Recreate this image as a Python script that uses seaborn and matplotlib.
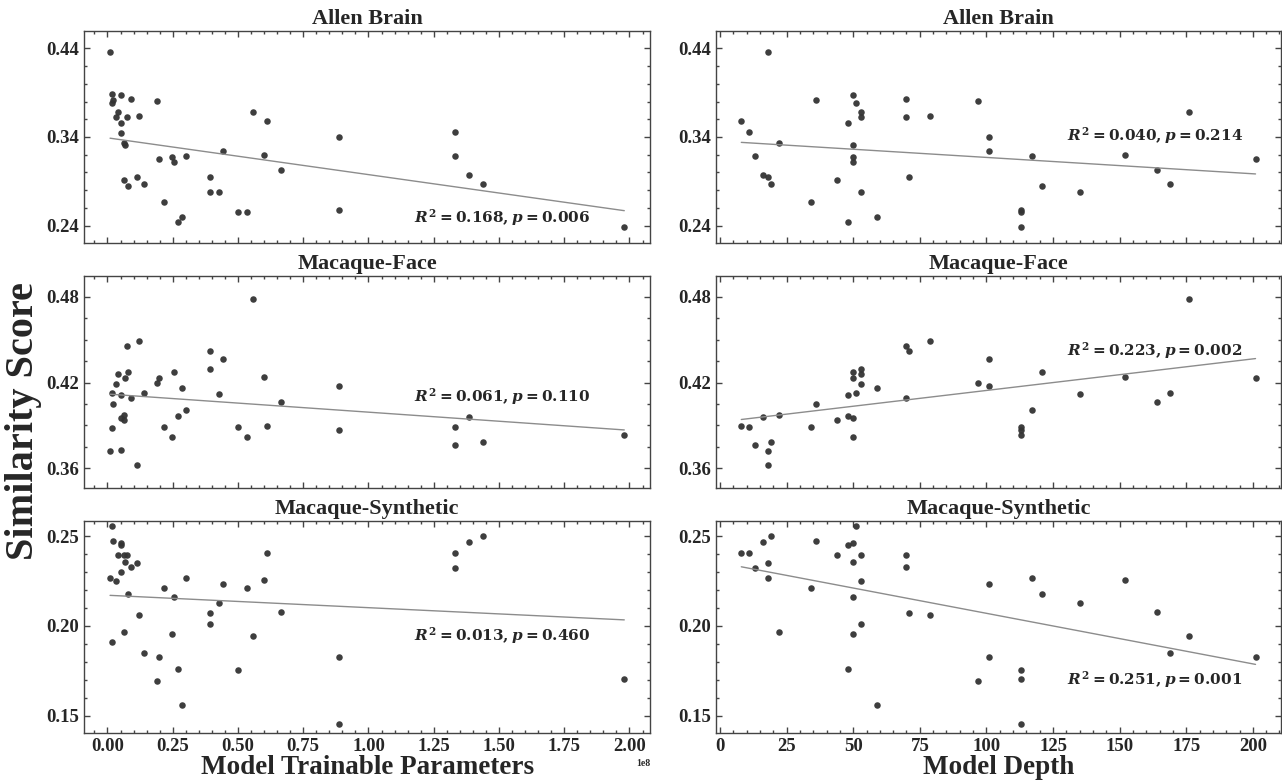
import numpy as np
import pandas as pd
import seaborn as sns
import matplotlib.pyplot as plt
from matplotlib.ticker import MultipleLocator, AutoMinorLocator, FormatStrFormatter

# Model size / depth (millions of params, layers); nan = depth not reported
params_m = [1.0, 1.8, 2.2, 1.9, 3.1, 4.1, 5.0, 5.1, 5.2, 6.2,
            6.4, 6.9, 7.5, 7.7, 8.9, 11.4, 12.0, 14.0, 19.1, 19.7,
            21.6, 24.9, 25.4, 27.0, 28.5, 30.2, 39.3, 39.2, 42.9, 44.3,
            50.1, 53.3, 55.7, 60.1, 61.0, 66.3, 88.7, 88.6, 133.0, 133.1,
            138.5, 143.9, 198.0]
depth = [18, np.nan, 36, 51, 53, 53, np.nan, 50, 48, 44,
         22, 50, 70, 121, 70, 18, 79, 169, 97, 201,
         34, 50, 50, 48, 59, 117, 71, 53, 135, 101,
         113, np.nan, 176, 152, 8, 164, 101, 113, 11, 13,
         16, 19, 113]

# Similarity scores per dataset
allen_brain = [0.4362, 0.3881, 0.3819, 0.3787, 0.3626, 0.3678, 0.3441, 0.3879, 0.3554, 0.2919,
               0.3330, 0.3306, 0.3629, 0.2847, 0.3829, 0.2945, 0.3637, 0.2870, 0.3802, 0.3156,
               0.2663, 0.3178, 0.3118, 0.2438, 0.2498, 0.3189, 0.2953, 0.2780, 0.2783, 0.3242,
               0.2554, 0.2554, 0.3678, 0.3201, 0.3577, 0.3031, 0.3396, 0.2580, 0.3453, 0.3189,
               0.2968, 0.2866, 0.2381]
macaque_face = [0.3720, 0.3879, 0.4046, 0.4125, 0.4193, 0.4262, 0.3727, 0.3952, 0.4111, 0.3935,
                0.3972, 0.4230, 0.4455, 0.4275, 0.4093, 0.3619, 0.4491, 0.4125, 0.4198, 0.4235,
                0.3891, 0.3816, 0.4277, 0.3963, 0.4163, 0.4005, 0.4418, 0.4292, 0.4120, 0.4365,
                0.3885, 0.3820, 0.4786, 0.4240, 0.3898, 0.4064, 0.4172, 0.3866, 0.3886, 0.3762,
                0.3959, 0.3785, 0.3832]
macaque_synthetic = [0.2266, 0.1908, 0.2470, 0.2558, 0.2247, 0.2393, 0.2301, 0.2463, 0.2448, 0.2393,
                     0.1968, 0.2354, 0.2393, 0.2177, 0.2326, 0.2348, 0.2058, 0.1850, 0.1691, 0.1824,
                     0.2208, 0.1955, 0.2161, 0.1762, 0.1560, 0.2268, 0.2071, 0.2011, 0.2125, 0.2232,
                     0.1755, 0.2213, 0.1942, 0.2258, 0.2407, 0.2077, 0.1824, 0.1451, 0.2408, 0.2324,
                     0.2468, 0.2500, 0.1704]

datasets = ["Allen Brain", "Macaque-Face", "Macaque-Synthetic"]
score_cols = ["allen", "face", "synth"]

# regression stats shown in each panel (R2, p) and where they sit (data coords)
stats_params = [("0.168", "0.006"), ("0.061", "0.110"), ("0.013", "0.460")]
stats_depth = [("0.040", "0.214"), ("0.223", "0.002"), ("0.251", "0.001")]
stat_xy_params = [(1.176e8, 0.2494), (1.176e8, 0.4102), (1.176e8, 0.1946)]
stat_xy_depth = [(130.2, 0.3411), (130.2, 0.4425), (130.2, 0.1699)]

yticks = [[0.24, 0.34, 0.44], [0.36, 0.42, 0.48], [0.15, 0.20, 0.25]]
ylims = [(0.2205, 0.4598), (0.3459, 0.4948), (0.1401, 0.2584)]

df = pd.DataFrame({
    "params": np.array(params_m) * 1e6,
    "depth": depth,
    "allen": allen_brain,
    "face": macaque_face,
    "synth": macaque_synthetic,
})

sns.set_style("ticks")
plt.rcParams["font.family"] = ["Liberation Serif", "DejaVu Serif"]
plt.rcParams["font.weight"] = "bold"
plt.rcParams["axes.titleweight"] = "bold"
plt.rcParams["axes.labelweight"] = "bold"
plt.rcParams["mathtext.fontset"] = "dejavuserif"

fig, axes = plt.subplots(3, 2, figsize=(12.82, 7.82), dpi=100)
fig.subplots_adjust(left=0.0658, right=0.9994, top=0.9607, bottom=0.0623,
                    wspace=0.116, hspace=0.155)

point_kws = {"s": 22, "color": "#333333", "alpha": 0.95, "linewidths": 0}
line_kws = {"color": "#8c8c8c", "linewidth": 1.0}

for row in range(3):
    col = score_cols[row]
    for c, xcol in enumerate(["params", "depth"]):
        ax = axes[row, c]
        sub = df[[xcol, col]].dropna()
        sns.regplot(data=sub, x=xcol, y=col, ax=ax, ci=None,
                    scatter_kws=point_kws, line_kws=line_kws)

        ax.set_title(datasets[row], fontsize=16, pad=5)
        ax.set_ylabel("")
        ax.set_xlabel("")
        ax.set_ylim(*ylims[row])
        ax.set_yticks(yticks[row])
        ax.yaxis.set_major_formatter(FormatStrFormatter("%.2f"))
        ax.yaxis.set_minor_locator(AutoMinorLocator())

        # x limits: data range plus 5% margin on each side
        lo, hi = sub[xcol].min(), sub[xcol].max()
        pad = (hi - lo) * 0.05
        ax.set_xlim(lo - pad, hi + pad)

        if c == 0:
            ax.xaxis.set_major_locator(MultipleLocator(0.25e8))
            ax.xaxis.set_minor_locator(MultipleLocator(0.05e8))
            r2, p = stats_params[row]
            tx, ty = stat_xy_params[row]
        else:
            ax.xaxis.set_major_locator(MultipleLocator(25))
            ax.xaxis.set_minor_locator(MultipleLocator(5))
            r2, p = stats_depth[row]
            tx, ty = stat_xy_depth[row]

        ax.text(tx, ty, r"$\boldsymbol{R^2 = %s, p = %s}$" % (r2, p),
                ha="left", va="center", fontsize=11)

        ax.tick_params(which="both", direction="in", top=True, right=True,
                       color="#444444", labelsize=13.5, width=1.0)
        ax.tick_params(which="major", length=4)
        ax.tick_params(which="minor", length=2)
        for s in ax.spines.values():
            s.set_color("#444444")
            s.set_linewidth(1.0)
        if row < 2:
            ax.tick_params(labelbottom=False)

axes[2, 0].xaxis.get_offset_text().set_fontsize(7)
axes[2, 0].set_xlabel("Model Trainable Parameters", fontsize=19.5, labelpad=0)
axes[2, 1].set_xlabel("Model Depth", fontsize=19.5, labelpad=0)

fig.text(0.018, 0.461, "Similarity Score", rotation=90, ha="center", va="center",
         fontsize=29, fontweight="bold")

plt.savefig("out.png", dpi=100)
